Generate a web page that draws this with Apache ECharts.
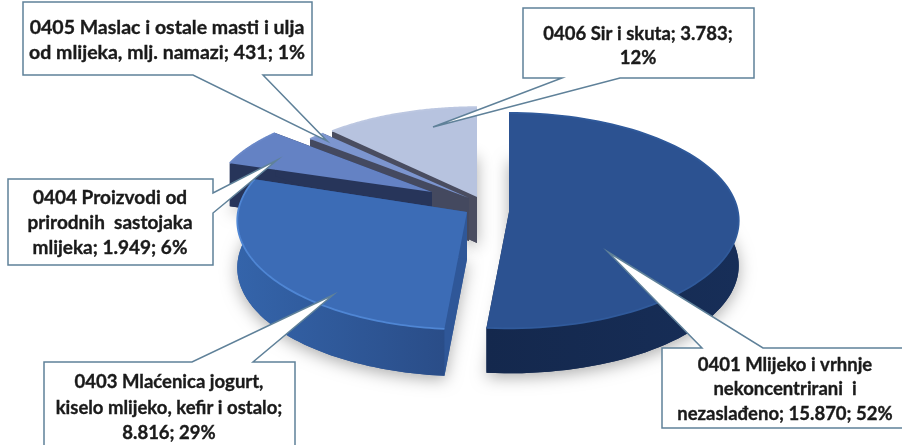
<!DOCTYPE html>
<html>
<head>
<meta charset="utf-8">
<style>html,body{margin:0;padding:0;background:#fff}#c{width:902px;height:445px}</style>
<script src="https://cdn.jsdelivr.net/npm/echarts@6/dist/echarts.min.js"></script>
</head>
<body>
<div id="c"></div>
<script>
// ---- data ----
const codes = ['0401', '0403', '0404', '0405', '0406'];
const values = [15870, 8816, 1949, 431, 3783];
const percents = ['52%', '29%', '6%', '1%', '12%'];
const valueLabels = ['15.870', '8.816', '1.949', '431', '3.783'];
const labelLines = [
  ['0401 Mlijeko i vrhnje', 'nekoncentrirani  i', 'nezaslađeno; 15.870; 52%'],
  ['0403 Mlaćenica jogurt,', 'kiselo mlijeko, kefir i ostalo;', '8.816; 29%'],
  ['0404 Proizvodi od', 'prirodnih  sastojaka', 'mlijeka; 1.949; 6%'],
  ['0405 Maslac i ostale masti i ulja', 'od mlijeka, mlj. namazi; 431; 1%'],
  ['0406 Sir i skuta; 3.783;', '12%']
];

// ---- layout (exploded-slice apex, radii, depth, colours) ----
const apexX = [509, 467, 432, 469, 477];
const apexY = [212, 212, 192, 198, 197];
const radX  = [229, 229, 218, 221, 220];
const radY  = [107, 108, 95, 95, 97];
const persp = 0.08;
const depth = [45, 47, 43, 43, 46];
const topCol = ['#2c5291', '#3c6cb6', '#6482c4', '#7c95cf', '#b7c3df'];
const wallA  = ['#14284d', '#3464aa', '#27355a', '#44495f', '#4a4d60'];
const wallB  = ['#172e58', '#2a4d88', '#27355a', '#44495f', '#4a4d60'];
const cutCol = ['#172e58', '#2f5798', '#27355a', '#44495f', '#4a4d60'];
const rimCol = ['#305a9b', '#4f86d4', '#6a88c8', '#8aa0d4', '#bcc7e1'];
const fontPx = [18.5, 18.5, 19, 19.5, 18.5];
const drawOrder = [4, 3, 2, 1, 0];
const boxes = [
  {x0:662,y0:348,x1:905,y1:428,edge:'top',b0:702,b1:763,tip:[608,252],cx:785,ly:[365,389,414]},
  {x0:44,y0:362,x1:295,y1:448,edge:'top',b0:192,b1:253,tip:[333,295],cx:169,ly:[382,408,433]},
  {x0:8,y0:179,x1:213,y1:265,edge:'right',b0:193,b1:213,tip:[277,160],cx:110,ly:[198,223,248]},
  {x0:23,y0:2,x1:312,y1:75,edge:'bottom',b0:193,b1:263,tip:[327,141],cx:167,ly:[28,53]},
  {x0:523,y0:8,x1:754,y1:78,edge:'bottom',b0:562,b1:620,tip:[433,127],cx:638,ly:[34,58]}
];

const total = values.reduce((a, b) => a + b, 0);
const startDeg = [], endDeg = [];
let acc = 0;
values.forEach((v, i) => { startDeg[i] = acc; acc += v / total * 360; endDeg[i] = acc; });

function pt(i, deg, down) {
  const t = deg * Math.PI / 180, c = Math.cos(t), s = 1 / (1 + persp * c);
  return [apexX[i] + Math.sin(t) * s * radX[i],
          apexY[i] - c * s * radY[i] + (down || 0)];
}
function arc(i, down) {
  const out = [], n = 90;
  for (let k = 0; k <= n; k++) {
    out.push(pt(i, startDeg[i] + (endDeg[i] - startDeg[i]) * k / n, down));
  }
  return out;
}
function poly(points, style, z2) {
  return { type: 'polygon', shape: { points }, style, z2: z2 || 0, silent: true };
}

function renderSlice(params, api) {
  const i = api.value(1);
  const d = depth[i];
  const A = [apexX[i], apexY[i]], Ad = [apexX[i], apexY[i] + d];
  const top = arc(i, 0), bot = arc(i, d);
  const first = top[0], last = top[top.length - 1];
  const firstD = bot[0], lastD = bot[bot.length - 1];
  const children = [
    poly([Ad].concat(bot), { fill: cutCol[i], shadowBlur: 16, shadowColor: 'rgba(0,0,0,0.32)', shadowOffsetY: 4 }),
    poly([A, first, firstD, Ad], { fill: cutCol[i] }),
    poly([A, last, lastD, Ad], { fill: cutCol[i] }),
    poly(top.concat(bot.slice().reverse()), {
      fill: new echarts.graphic.LinearGradient(0, 0, 1, 0, [
        { offset: 0, color: wallA[i] }, { offset: 1, color: wallB[i] }
      ])
    }),
    poly([A].concat(top), { fill: topCol[i] }),
    { type: 'polyline', shape: { points: top }, silent: true,
      style: { fill: null, stroke: rimCol[i], lineWidth: 1.8 } }
  ];
  return { type: 'group', children };
}

function renderCallout(params, api) {
  const i = api.value(1), b = boxes[i];
  let pts;
  if (b.edge === 'top') {
    pts = [[b.x0,b.y0],[b.b0,b.y0],b.tip,[b.b1,b.y0],[b.x1,b.y0],[b.x1,b.y1],[b.x0,b.y1]];
  } else if (b.edge === 'bottom') {
    pts = [[b.x0,b.y0],[b.x1,b.y0],[b.x1,b.y1],[b.b1,b.y1],b.tip,[b.b0,b.y1],[b.x0,b.y1]];
  } else {
    pts = [[b.x0,b.y0],[b.x1,b.y0],[b.x1,b.b0],b.tip,[b.x1,b.b1],[b.x1,b.y1],[b.x0,b.y1]];
  }
  const children = [poly(pts, { fill: '#ffffff', stroke: '#5f8199', lineWidth: 1.5 })];
  labelLines[i].forEach((line, k) => {
    children.push({
      type: 'text', silent: true, z2: 2,
      style: {
        x: b.cx, y: b.ly[k], text: line, align: 'center', verticalAlign: 'middle',
        fill: '#1a1a1a', stroke: '#1a1a1a', lineWidth: 0.35,
        font: 'bold ' + fontPx[i] + 'px Lato, "Open Sans", sans-serif'
      }
    });
  });
  return { type: 'group', children };
}

const sliceData = drawOrder.map(i => ({ name: codes[i], value: [values[i], i] }));
const calloutData = [4, 3, 2, 1, 0].map(i => ({ name: codes[i] + ' ' + valueLabels[i] + ' ' + percents[i], value: [values[i], i] }));

const chart = echarts.init(document.getElementById('c'), null, { renderer: 'canvas' });
chart.setOption({
  animation: false,
  backgroundColor: '#ffffff',
  tooltip: { show: false },
  series: [
    { type: 'custom', coordinateSystem: 'none', renderItem: renderSlice, data: sliceData, z: 2, silent: true },
    { type: 'custom', coordinateSystem: 'none', renderItem: renderCallout, data: calloutData, z: 3, silent: true }
  ]
});
</script>
</body>
</html>
